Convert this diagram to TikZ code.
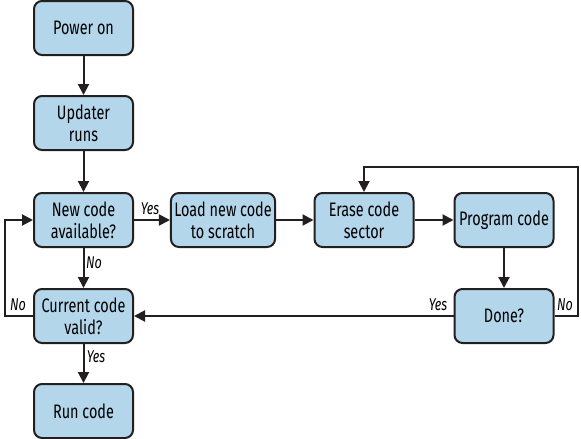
\documentclass[tikz,border=0pt]{standalone}
\usepackage{fontspec}
\setmainfont[FakeStretch=0.74]{Fira Sans}
\usetikzlibrary{arrows.meta}

\definecolor{boxblue}{HTML}{B4D6EB}
\definecolor{inkdark}{HTML}{231F20}

\tikzset{
  box/.style = {draw = inkdark, fill = boxblue, line width = 2pt,
    rounded corners = 8pt, minimum width = 99pt, minimum height = 54pt,
    align = center, font = \fontsize{19.5pt}{22pt}\selectfont},
  flow/.style = {line width = 2pt, draw = inkdark,
    -{Triangle[length=11pt,width=11pt]}},
  answer/.style = {font = \fontsize{17pt}{19pt}\selectfont\itshape}
}

\begin{document}
\begin{tikzpicture}[x=1pt, y=-1pt]

    \useasboundingbox (0,0) rectangle (581,439);

    \node[box] (power) at (83.5,28) {Power on};
    \node[box] (updater) at (83.5,123) {Updater\\runs};
    \node[box] (newcode) at (83.5,220) {New code\\available?};
    \node[box] (current) at (83.5,316) {Current code\\valid?};
    \node[box] (run) at (83.5,411) {Run code};

    \node[box] (load) at (223,220) {Load new code\\to scratch};
    \node[box] (erase) at (364,220) {Erase code\\sector};
    \node[box] (program) at (504,220) {Program code};
    \node[box] (done) at (504,316) {Done?};

    \coordinate (loopright) at (578,167);
    \coordinate (loopleft) at (5,316);

    \draw[flow] (power) to (updater);
    \draw[flow] (updater) to (newcode);
    \draw[flow] (newcode) to (load);
    \draw[flow] (load) to (erase);
    \draw[flow] (erase) to (program);
    \draw[flow] (program) to (done);
    \draw[flow] (done) to (current);
    \draw[flow] (newcode) to (current);
    \draw[flow] (current) to (run);

    \draw[flow] (done.east) -| (loopright) -| (erase.north);
    \draw[flow] (current.west) -- (loopleft) |- (newcode.west);

    \node[answer] (yes1) at (150,209) {Yes};
    \node[answer] (no1) at (94,263) {No};
    \node[answer] (no2) at (18,305) {No};
    \node[answer] (yes2) at (438,305) {Yes};
    \node[answer] (no3) at (565,305) {No};
    \node[answer] (yes3) at (96,357) {Yes};

\end{tikzpicture}
\end{document}
